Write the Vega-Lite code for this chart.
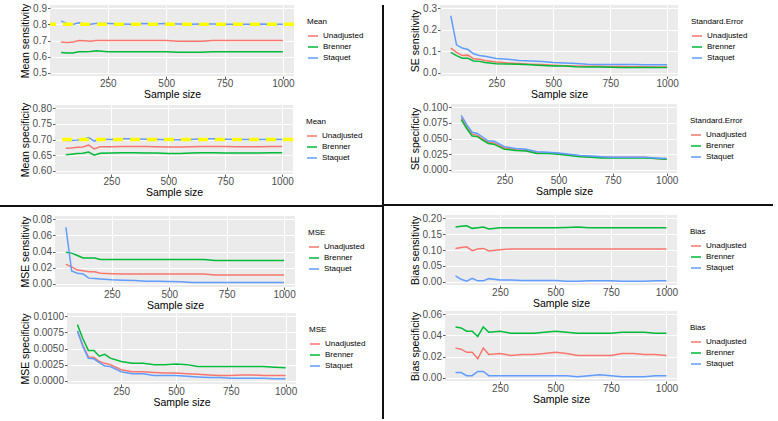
{
"$schema":"https://vega.github.io/schema/vega-lite/v6.json",
"background":"white",
"padding":{"left":0,"top":3,"right":5,"bottom":2},
"config":{
"font":"Liberation Sans",
"view":{"fill":"#EBEBEB","stroke":null},
"style":{"guide-title":{"fontWeight":"normal"}},
"axis":{"domain":false,"tickColor":"#333333","tickSize":2.5,"tickWidth":0.8,"labelColor":"#4D4D4D","labelFontSize":10,"titleFontSize":10.5,"titleFontWeight":"normal","titleColor":"#000000","grid":true,"gridColor":"#FFFFFF","gridWidth":1},
"axisX":{"labelPadding":0,"titlePadding":1,"minExtent":0},
"axisY":{"labelPadding":1,"titlePadding":2,"minExtent":0},
"legend":{"titleFontSize":8,"titleFontWeight":"normal","labelFontSize":8,"symbolType":"stroke","symbolSize":100,"symbolStrokeWidth":1.5,"rowPadding":1,"padding":13,"offset":0,"titlePadding":4,"labelOffset":4,"labelColor":"#000000"}
},
"datasets":{
"ms":[
{"n":50,"m":"Unadjusted","v":0.690},{"n":75,"m":"Unadjusted","v":0.688},{"n":100,"m":"Unadjusted","v":0.690},{"n":125,"m":"Unadjusted","v":0.700},{"n":150,"m":"Unadjusted","v":0.698},{"n":175,"m":"Unadjusted","v":0.695},{"n":200,"m":"Unadjusted","v":0.700},{"n":250,"m":"Unadjusted","v":0.700},{"n":300,"m":"Unadjusted","v":0.700},{"n":350,"m":"Unadjusted","v":0.700},{"n":400,"m":"Unadjusted","v":0.700},{"n":450,"m":"Unadjusted","v":0.700},{"n":500,"m":"Unadjusted","v":0.700},{"n":550,"m":"Unadjusted","v":0.695},{"n":600,"m":"Unadjusted","v":0.695},{"n":650,"m":"Unadjusted","v":0.695},{"n":700,"m":"Unadjusted","v":0.700},{"n":750,"m":"Unadjusted","v":0.700},{"n":800,"m":"Unadjusted","v":0.700},{"n":850,"m":"Unadjusted","v":0.700},{"n":900,"m":"Unadjusted","v":0.700},{"n":950,"m":"Unadjusted","v":0.700},{"n":1000,"m":"Unadjusted","v":0.700},
{"n":50,"m":"Brenner","v":0.625},{"n":75,"m":"Brenner","v":0.622},{"n":100,"m":"Brenner","v":0.622},{"n":125,"m":"Brenner","v":0.630},{"n":150,"m":"Brenner","v":0.630},{"n":175,"m":"Brenner","v":0.632},{"n":200,"m":"Brenner","v":0.636},{"n":250,"m":"Brenner","v":0.630},{"n":300,"m":"Brenner","v":0.630},{"n":350,"m":"Brenner","v":0.630},{"n":400,"m":"Brenner","v":0.630},{"n":450,"m":"Brenner","v":0.630},{"n":500,"m":"Brenner","v":0.630},{"n":550,"m":"Brenner","v":0.627},{"n":600,"m":"Brenner","v":0.627},{"n":650,"m":"Brenner","v":0.627},{"n":700,"m":"Brenner","v":0.630},{"n":750,"m":"Brenner","v":0.630},{"n":800,"m":"Brenner","v":0.630},{"n":850,"m":"Brenner","v":0.630},{"n":900,"m":"Brenner","v":0.630},{"n":950,"m":"Brenner","v":0.630},{"n":1000,"m":"Brenner","v":0.630},
{"n":50,"m":"Staquet","v":0.820},{"n":75,"m":"Staquet","v":0.805},{"n":100,"m":"Staquet","v":0.800},{"n":125,"m":"Staquet","v":0.810},{"n":150,"m":"Staquet","v":0.802},{"n":175,"m":"Staquet","v":0.800},{"n":200,"m":"Staquet","v":0.806},{"n":250,"m":"Staquet","v":0.805},{"n":300,"m":"Staquet","v":0.802},{"n":350,"m":"Staquet","v":0.800},{"n":400,"m":"Staquet","v":0.805},{"n":450,"m":"Staquet","v":0.802},{"n":500,"m":"Staquet","v":0.805},{"n":550,"m":"Staquet","v":0.802},{"n":600,"m":"Staquet","v":0.800},{"n":650,"m":"Staquet","v":0.802},{"n":700,"m":"Staquet","v":0.802},{"n":750,"m":"Staquet","v":0.800},{"n":800,"m":"Staquet","v":0.800},{"n":850,"m":"Staquet","v":0.800},{"n":900,"m":"Staquet","v":0.802},{"n":950,"m":"Staquet","v":0.800},{"n":1000,"m":"Staquet","v":0.800}
],
"msp":[
{"n":50,"m":"Unadjusted","v":0.672},{"n":75,"m":"Unadjusted","v":0.673},{"n":100,"m":"Unadjusted","v":0.675},{"n":125,"m":"Unadjusted","v":0.676},{"n":150,"m":"Unadjusted","v":0.682},{"n":175,"m":"Unadjusted","v":0.670},{"n":200,"m":"Unadjusted","v":0.677},{"n":250,"m":"Unadjusted","v":0.677},{"n":300,"m":"Unadjusted","v":0.678},{"n":350,"m":"Unadjusted","v":0.678},{"n":400,"m":"Unadjusted","v":0.678},{"n":450,"m":"Unadjusted","v":0.677},{"n":500,"m":"Unadjusted","v":0.676},{"n":550,"m":"Unadjusted","v":0.676},{"n":600,"m":"Unadjusted","v":0.677},{"n":650,"m":"Unadjusted","v":0.678},{"n":700,"m":"Unadjusted","v":0.678},{"n":750,"m":"Unadjusted","v":0.678},{"n":800,"m":"Unadjusted","v":0.677},{"n":850,"m":"Unadjusted","v":0.677},{"n":900,"m":"Unadjusted","v":0.677},{"n":950,"m":"Unadjusted","v":0.678},{"n":1000,"m":"Unadjusted","v":0.678},
{"n":50,"m":"Brenner","v":0.651},{"n":75,"m":"Brenner","v":0.653},{"n":100,"m":"Brenner","v":0.655},{"n":125,"m":"Brenner","v":0.656},{"n":150,"m":"Brenner","v":0.660},{"n":175,"m":"Brenner","v":0.650},{"n":200,"m":"Brenner","v":0.656},{"n":250,"m":"Brenner","v":0.657},{"n":300,"m":"Brenner","v":0.658},{"n":350,"m":"Brenner","v":0.658},{"n":400,"m":"Brenner","v":0.657},{"n":450,"m":"Brenner","v":0.657},{"n":500,"m":"Brenner","v":0.655},{"n":550,"m":"Brenner","v":0.655},{"n":600,"m":"Brenner","v":0.657},{"n":650,"m":"Brenner","v":0.658},{"n":700,"m":"Brenner","v":0.658},{"n":750,"m":"Brenner","v":0.657},{"n":800,"m":"Brenner","v":0.657},{"n":850,"m":"Brenner","v":0.657},{"n":900,"m":"Brenner","v":0.657},{"n":950,"m":"Brenner","v":0.658},{"n":1000,"m":"Brenner","v":0.658},
{"n":50,"m":"Staquet","v":0.697},{"n":75,"m":"Staquet","v":0.697},{"n":100,"m":"Staquet","v":0.698},{"n":125,"m":"Staquet","v":0.700},{"n":150,"m":"Staquet","v":0.706},{"n":175,"m":"Staquet","v":0.695},{"n":200,"m":"Staquet","v":0.700},{"n":250,"m":"Staquet","v":0.700},{"n":300,"m":"Staquet","v":0.702},{"n":350,"m":"Staquet","v":0.702},{"n":400,"m":"Staquet","v":0.701},{"n":450,"m":"Staquet","v":0.700},{"n":500,"m":"Staquet","v":0.699},{"n":550,"m":"Staquet","v":0.699},{"n":600,"m":"Staquet","v":0.700},{"n":650,"m":"Staquet","v":0.702},{"n":700,"m":"Staquet","v":0.702},{"n":750,"m":"Staquet","v":0.701},{"n":800,"m":"Staquet","v":0.700},{"n":850,"m":"Staquet","v":0.700},{"n":900,"m":"Staquet","v":0.700},{"n":950,"m":"Staquet","v":0.700},{"n":1000,"m":"Staquet","v":0.700}
],
"ses":[
{"n":50,"m":"Unadjusted","v":0.115},{"n":75,"m":"Unadjusted","v":0.095},{"n":100,"m":"Unadjusted","v":0.080},{"n":125,"m":"Unadjusted","v":0.082},{"n":150,"m":"Unadjusted","v":0.065},{"n":175,"m":"Unadjusted","v":0.063},{"n":200,"m":"Unadjusted","v":0.057},{"n":250,"m":"Unadjusted","v":0.050},{"n":300,"m":"Unadjusted","v":0.045},{"n":350,"m":"Unadjusted","v":0.043},{"n":400,"m":"Unadjusted","v":0.040},{"n":450,"m":"Unadjusted","v":0.038},{"n":500,"m":"Unadjusted","v":0.035},{"n":550,"m":"Unadjusted","v":0.033},{"n":600,"m":"Unadjusted","v":0.031},{"n":650,"m":"Unadjusted","v":0.030},{"n":700,"m":"Unadjusted","v":0.030},{"n":750,"m":"Unadjusted","v":0.029},{"n":800,"m":"Unadjusted","v":0.029},{"n":850,"m":"Unadjusted","v":0.028},{"n":900,"m":"Unadjusted","v":0.028},{"n":950,"m":"Unadjusted","v":0.027},{"n":1000,"m":"Unadjusted","v":0.027},
{"n":50,"m":"Brenner","v":0.095},{"n":75,"m":"Brenner","v":0.080},{"n":100,"m":"Brenner","v":0.068},{"n":125,"m":"Brenner","v":0.067},{"n":150,"m":"Brenner","v":0.055},{"n":175,"m":"Brenner","v":0.053},{"n":200,"m":"Brenner","v":0.048},{"n":250,"m":"Brenner","v":0.042},{"n":300,"m":"Brenner","v":0.041},{"n":350,"m":"Brenner","v":0.040},{"n":400,"m":"Brenner","v":0.037},{"n":450,"m":"Brenner","v":0.034},{"n":500,"m":"Brenner","v":0.032},{"n":550,"m":"Brenner","v":0.031},{"n":600,"m":"Brenner","v":0.028},{"n":650,"m":"Brenner","v":0.027},{"n":700,"m":"Brenner","v":0.027},{"n":750,"m":"Brenner","v":0.026},{"n":800,"m":"Brenner","v":0.025},{"n":850,"m":"Brenner","v":0.025},{"n":900,"m":"Brenner","v":0.024},{"n":950,"m":"Brenner","v":0.024},{"n":1000,"m":"Brenner","v":0.024},
{"n":50,"m":"Staquet","v":0.265},{"n":75,"m":"Staquet","v":0.130},{"n":100,"m":"Staquet","v":0.115},{"n":125,"m":"Staquet","v":0.108},{"n":150,"m":"Staquet","v":0.088},{"n":175,"m":"Staquet","v":0.080},{"n":200,"m":"Staquet","v":0.077},{"n":250,"m":"Staquet","v":0.066},{"n":300,"m":"Staquet","v":0.063},{"n":350,"m":"Staquet","v":0.057},{"n":400,"m":"Staquet","v":0.055},{"n":450,"m":"Staquet","v":0.052},{"n":500,"m":"Staquet","v":0.048},{"n":550,"m":"Staquet","v":0.046},{"n":600,"m":"Staquet","v":0.043},{"n":650,"m":"Staquet","v":0.040},{"n":700,"m":"Staquet","v":0.039},{"n":750,"m":"Staquet","v":0.039},{"n":800,"m":"Staquet","v":0.038},{"n":850,"m":"Staquet","v":0.038},{"n":900,"m":"Staquet","v":0.037},{"n":950,"m":"Staquet","v":0.037},{"n":1000,"m":"Staquet","v":0.037}
],
"sesp":[
{"n":50,"m":"Unadjusted","v":0.083},{"n":75,"m":"Unadjusted","v":0.068},{"n":100,"m":"Unadjusted","v":0.057},{"n":125,"m":"Unadjusted","v":0.055},{"n":150,"m":"Unadjusted","v":0.049},{"n":175,"m":"Unadjusted","v":0.044},{"n":200,"m":"Unadjusted","v":0.043},{"n":250,"m":"Unadjusted","v":0.035},{"n":300,"m":"Unadjusted","v":0.032},{"n":350,"m":"Unadjusted","v":0.031},{"n":400,"m":"Unadjusted","v":0.027},{"n":450,"m":"Unadjusted","v":0.027},{"n":500,"m":"Unadjusted","v":0.026},{"n":550,"m":"Unadjusted","v":0.024},{"n":600,"m":"Unadjusted","v":0.022},{"n":650,"m":"Unadjusted","v":0.021},{"n":700,"m":"Unadjusted","v":0.020},{"n":750,"m":"Unadjusted","v":0.020},{"n":800,"m":"Unadjusted","v":0.020},{"n":850,"m":"Unadjusted","v":0.020},{"n":900,"m":"Unadjusted","v":0.020},{"n":950,"m":"Unadjusted","v":0.018},{"n":1000,"m":"Unadjusted","v":0.017},
{"n":50,"m":"Brenner","v":0.080},{"n":75,"m":"Brenner","v":0.066},{"n":100,"m":"Brenner","v":0.054},{"n":125,"m":"Brenner","v":0.053},{"n":150,"m":"Brenner","v":0.047},{"n":175,"m":"Brenner","v":0.042},{"n":200,"m":"Brenner","v":0.041},{"n":250,"m":"Brenner","v":0.033},{"n":300,"m":"Brenner","v":0.031},{"n":350,"m":"Brenner","v":0.030},{"n":400,"m":"Brenner","v":0.026},{"n":450,"m":"Brenner","v":0.026},{"n":500,"m":"Brenner","v":0.025},{"n":550,"m":"Brenner","v":0.023},{"n":600,"m":"Brenner","v":0.021},{"n":650,"m":"Brenner","v":0.020},{"n":700,"m":"Brenner","v":0.019},{"n":750,"m":"Brenner","v":0.019},{"n":800,"m":"Brenner","v":0.019},{"n":850,"m":"Brenner","v":0.019},{"n":900,"m":"Brenner","v":0.019},{"n":950,"m":"Brenner","v":0.018},{"n":1000,"m":"Brenner","v":0.017},
{"n":50,"m":"Staquet","v":0.087},{"n":75,"m":"Staquet","v":0.072},{"n":100,"m":"Staquet","v":0.060},{"n":125,"m":"Staquet","v":0.058},{"n":150,"m":"Staquet","v":0.052},{"n":175,"m":"Staquet","v":0.046},{"n":200,"m":"Staquet","v":0.046},{"n":250,"m":"Staquet","v":0.037},{"n":300,"m":"Staquet","v":0.034},{"n":350,"m":"Staquet","v":0.033},{"n":400,"m":"Staquet","v":0.029},{"n":450,"m":"Staquet","v":0.028},{"n":500,"m":"Staquet","v":0.027},{"n":550,"m":"Staquet","v":0.025},{"n":600,"m":"Staquet","v":0.023},{"n":650,"m":"Staquet","v":0.022},{"n":700,"m":"Staquet","v":0.021},{"n":750,"m":"Staquet","v":0.020},{"n":800,"m":"Staquet","v":0.020},{"n":850,"m":"Staquet","v":0.020},{"n":900,"m":"Staquet","v":0.020},{"n":950,"m":"Staquet","v":0.019},{"n":1000,"m":"Staquet","v":0.018}
],
"mses":[
{"n":50,"m":"Unadjusted","v":0.024},{"n":75,"m":"Unadjusted","v":0.021},{"n":100,"m":"Unadjusted","v":0.017},{"n":125,"m":"Unadjusted","v":0.016},{"n":150,"m":"Unadjusted","v":0.015},{"n":175,"m":"Unadjusted","v":0.015},{"n":200,"m":"Unadjusted","v":0.013},{"n":250,"m":"Unadjusted","v":0.0125},{"n":300,"m":"Unadjusted","v":0.012},{"n":350,"m":"Unadjusted","v":0.012},{"n":400,"m":"Unadjusted","v":0.012},{"n":450,"m":"Unadjusted","v":0.012},{"n":500,"m":"Unadjusted","v":0.012},{"n":550,"m":"Unadjusted","v":0.012},{"n":600,"m":"Unadjusted","v":0.012},{"n":650,"m":"Unadjusted","v":0.012},{"n":700,"m":"Unadjusted","v":0.011},{"n":750,"m":"Unadjusted","v":0.011},{"n":800,"m":"Unadjusted","v":0.011},{"n":850,"m":"Unadjusted","v":0.011},{"n":900,"m":"Unadjusted","v":0.011},{"n":950,"m":"Unadjusted","v":0.011},{"n":1000,"m":"Unadjusted","v":0.011},
{"n":50,"m":"Brenner","v":0.039},{"n":75,"m":"Brenner","v":0.038},{"n":100,"m":"Brenner","v":0.035},{"n":125,"m":"Brenner","v":0.032},{"n":150,"m":"Brenner","v":0.032},{"n":175,"m":"Brenner","v":0.032},{"n":200,"m":"Brenner","v":0.030},{"n":250,"m":"Brenner","v":0.030},{"n":300,"m":"Brenner","v":0.030},{"n":350,"m":"Brenner","v":0.030},{"n":400,"m":"Brenner","v":0.030},{"n":450,"m":"Brenner","v":0.030},{"n":500,"m":"Brenner","v":0.030},{"n":550,"m":"Brenner","v":0.030},{"n":600,"m":"Brenner","v":0.030},{"n":650,"m":"Brenner","v":0.030},{"n":700,"m":"Brenner","v":0.029},{"n":750,"m":"Brenner","v":0.029},{"n":800,"m":"Brenner","v":0.029},{"n":850,"m":"Brenner","v":0.029},{"n":900,"m":"Brenner","v":0.029},{"n":950,"m":"Brenner","v":0.029},{"n":1000,"m":"Brenner","v":0.029},
{"n":50,"m":"Staquet","v":0.070},{"n":75,"m":"Staquet","v":0.016},{"n":100,"m":"Staquet","v":0.013},{"n":125,"m":"Staquet","v":0.012},{"n":150,"m":"Staquet","v":0.007},{"n":175,"m":"Staquet","v":0.0065},{"n":200,"m":"Staquet","v":0.006},{"n":250,"m":"Staquet","v":0.005},{"n":300,"m":"Staquet","v":0.0045},{"n":350,"m":"Staquet","v":0.004},{"n":400,"m":"Staquet","v":0.003},{"n":450,"m":"Staquet","v":0.003},{"n":500,"m":"Staquet","v":0.0028},{"n":550,"m":"Staquet","v":0.0025},{"n":600,"m":"Staquet","v":0.0015},{"n":650,"m":"Staquet","v":0.0015},{"n":700,"m":"Staquet","v":0.0015},{"n":750,"m":"Staquet","v":0.0015},{"n":800,"m":"Staquet","v":0.0015},{"n":850,"m":"Staquet","v":0.0015},{"n":900,"m":"Staquet","v":0.0015},{"n":950,"m":"Staquet","v":0.0015},{"n":1000,"m":"Staquet","v":0.0015}
],
"msesp":[
{"n":50,"m":"Unadjusted","v":0.0077},{"n":75,"m":"Unadjusted","v":0.0055},{"n":100,"m":"Unadjusted","v":0.0037},{"n":125,"m":"Unadjusted","v":0.0036},{"n":150,"m":"Unadjusted","v":0.0030},{"n":175,"m":"Unadjusted","v":0.0027},{"n":200,"m":"Unadjusted","v":0.0025},{"n":250,"m":"Unadjusted","v":0.0017},{"n":300,"m":"Unadjusted","v":0.0014},{"n":350,"m":"Unadjusted","v":0.0014},{"n":400,"m":"Unadjusted","v":0.0013},{"n":450,"m":"Unadjusted","v":0.0012},{"n":500,"m":"Unadjusted","v":0.0012},{"n":550,"m":"Unadjusted","v":0.0011},{"n":600,"m":"Unadjusted","v":0.0010},{"n":650,"m":"Unadjusted","v":0.0009},{"n":700,"m":"Unadjusted","v":0.0008},{"n":750,"m":"Unadjusted","v":0.0008},{"n":800,"m":"Unadjusted","v":0.0009},{"n":850,"m":"Unadjusted","v":0.0009},{"n":900,"m":"Unadjusted","v":0.0008},{"n":950,"m":"Unadjusted","v":0.0008},{"n":1000,"m":"Unadjusted","v":0.0008},
{"n":50,"m":"Brenner","v":0.0087},{"n":75,"m":"Brenner","v":0.0065},{"n":100,"m":"Brenner","v":0.0047},{"n":125,"m":"Brenner","v":0.0047},{"n":150,"m":"Brenner","v":0.0038},{"n":175,"m":"Brenner","v":0.0041},{"n":200,"m":"Brenner","v":0.0035},{"n":250,"m":"Brenner","v":0.0030},{"n":300,"m":"Brenner","v":0.0027},{"n":350,"m":"Brenner","v":0.0027},{"n":400,"m":"Brenner","v":0.0025},{"n":450,"m":"Brenner","v":0.0025},{"n":500,"m":"Brenner","v":0.0026},{"n":550,"m":"Brenner","v":0.0025},{"n":600,"m":"Brenner","v":0.0022},{"n":650,"m":"Brenner","v":0.0022},{"n":700,"m":"Brenner","v":0.0022},{"n":750,"m":"Brenner","v":0.0022},{"n":800,"m":"Brenner","v":0.0022},{"n":850,"m":"Brenner","v":0.0022},{"n":900,"m":"Brenner","v":0.0022},{"n":950,"m":"Brenner","v":0.0021},{"n":1000,"m":"Brenner","v":0.0020},
{"n":50,"m":"Staquet","v":0.0077},{"n":75,"m":"Staquet","v":0.0053},{"n":100,"m":"Staquet","v":0.0035},{"n":125,"m":"Staquet","v":0.0034},{"n":150,"m":"Staquet","v":0.0028},{"n":175,"m":"Staquet","v":0.0023},{"n":200,"m":"Staquet","v":0.0022},{"n":250,"m":"Staquet","v":0.0014},{"n":300,"m":"Staquet","v":0.0011},{"n":350,"m":"Staquet","v":0.0011},{"n":400,"m":"Staquet","v":0.0008},{"n":450,"m":"Staquet","v":0.0008},{"n":500,"m":"Staquet","v":0.0008},{"n":550,"m":"Staquet","v":0.0007},{"n":600,"m":"Staquet","v":0.0006},{"n":650,"m":"Staquet","v":0.0005},{"n":700,"m":"Staquet","v":0.0005},{"n":750,"m":"Staquet","v":0.0004},{"n":800,"m":"Staquet","v":0.0004},{"n":850,"m":"Staquet","v":0.0004},{"n":900,"m":"Staquet","v":0.0004},{"n":950,"m":"Staquet","v":0.0003},{"n":1000,"m":"Staquet","v":0.0003}
],
"bs":[
{"n":50,"m":"Unadjusted","v":0.105},{"n":75,"m":"Unadjusted","v":0.108},{"n":100,"m":"Unadjusted","v":0.110},{"n":125,"m":"Unadjusted","v":0.098},{"n":150,"m":"Unadjusted","v":0.103},{"n":175,"m":"Unadjusted","v":0.105},{"n":200,"m":"Unadjusted","v":0.097},{"n":250,"m":"Unadjusted","v":0.101},{"n":300,"m":"Unadjusted","v":0.103},{"n":350,"m":"Unadjusted","v":0.103},{"n":400,"m":"Unadjusted","v":0.103},{"n":450,"m":"Unadjusted","v":0.103},{"n":500,"m":"Unadjusted","v":0.103},{"n":550,"m":"Unadjusted","v":0.103},{"n":600,"m":"Unadjusted","v":0.103},{"n":650,"m":"Unadjusted","v":0.103},{"n":700,"m":"Unadjusted","v":0.103},{"n":750,"m":"Unadjusted","v":0.103},{"n":800,"m":"Unadjusted","v":0.103},{"n":850,"m":"Unadjusted","v":0.103},{"n":900,"m":"Unadjusted","v":0.103},{"n":950,"m":"Unadjusted","v":0.103},{"n":1000,"m":"Unadjusted","v":0.103},
{"n":50,"m":"Brenner","v":0.172},{"n":75,"m":"Brenner","v":0.175},{"n":100,"m":"Brenner","v":0.176},{"n":125,"m":"Brenner","v":0.168},{"n":150,"m":"Brenner","v":0.170},{"n":175,"m":"Brenner","v":0.172},{"n":200,"m":"Brenner","v":0.166},{"n":250,"m":"Brenner","v":0.170},{"n":300,"m":"Brenner","v":0.170},{"n":350,"m":"Brenner","v":0.170},{"n":400,"m":"Brenner","v":0.170},{"n":450,"m":"Brenner","v":0.170},{"n":500,"m":"Brenner","v":0.170},{"n":550,"m":"Brenner","v":0.171},{"n":600,"m":"Brenner","v":0.172},{"n":650,"m":"Brenner","v":0.170},{"n":700,"m":"Brenner","v":0.170},{"n":750,"m":"Brenner","v":0.170},{"n":800,"m":"Brenner","v":0.170},{"n":850,"m":"Brenner","v":0.170},{"n":900,"m":"Brenner","v":0.170},{"n":950,"m":"Brenner","v":0.170},{"n":1000,"m":"Brenner","v":0.170},
{"n":50,"m":"Staquet","v":0.019},{"n":75,"m":"Staquet","v":0.008},{"n":100,"m":"Staquet","v":0.002},{"n":125,"m":"Staquet","v":0.011},{"n":150,"m":"Staquet","v":0.003},{"n":175,"m":"Staquet","v":0.003},{"n":200,"m":"Staquet","v":0.010},{"n":250,"m":"Staquet","v":0.006},{"n":300,"m":"Staquet","v":0.006},{"n":350,"m":"Staquet","v":0.004},{"n":400,"m":"Staquet","v":0.004},{"n":450,"m":"Staquet","v":0.004},{"n":500,"m":"Staquet","v":0.004},{"n":550,"m":"Staquet","v":0.002},{"n":600,"m":"Staquet","v":0.002},{"n":650,"m":"Staquet","v":0.003},{"n":700,"m":"Staquet","v":0.003},{"n":750,"m":"Staquet","v":0.003},{"n":800,"m":"Staquet","v":0.002},{"n":850,"m":"Staquet","v":0.002},{"n":900,"m":"Staquet","v":0.002},{"n":950,"m":"Staquet","v":0.003},{"n":1000,"m":"Staquet","v":0.003}
],
"bsp":[
{"n":50,"m":"Unadjusted","v":0.028},{"n":75,"m":"Unadjusted","v":0.027},{"n":100,"m":"Unadjusted","v":0.024},{"n":125,"m":"Unadjusted","v":0.024},{"n":150,"m":"Unadjusted","v":0.018},{"n":175,"m":"Unadjusted","v":0.028},{"n":200,"m":"Unadjusted","v":0.022},{"n":250,"m":"Unadjusted","v":0.023},{"n":300,"m":"Unadjusted","v":0.021},{"n":350,"m":"Unadjusted","v":0.022},{"n":400,"m":"Unadjusted","v":0.022},{"n":450,"m":"Unadjusted","v":0.023},{"n":500,"m":"Unadjusted","v":0.024},{"n":550,"m":"Unadjusted","v":0.023},{"n":600,"m":"Unadjusted","v":0.021},{"n":650,"m":"Unadjusted","v":0.021},{"n":700,"m":"Unadjusted","v":0.021},{"n":750,"m":"Unadjusted","v":0.021},{"n":800,"m":"Unadjusted","v":0.023},{"n":850,"m":"Unadjusted","v":0.023},{"n":900,"m":"Unadjusted","v":0.022},{"n":950,"m":"Unadjusted","v":0.022},{"n":1000,"m":"Unadjusted","v":0.021},
{"n":50,"m":"Brenner","v":0.048},{"n":75,"m":"Brenner","v":0.047},{"n":100,"m":"Brenner","v":0.044},{"n":125,"m":"Brenner","v":0.044},{"n":150,"m":"Brenner","v":0.039},{"n":175,"m":"Brenner","v":0.048},{"n":200,"m":"Brenner","v":0.043},{"n":250,"m":"Brenner","v":0.044},{"n":300,"m":"Brenner","v":0.042},{"n":350,"m":"Brenner","v":0.042},{"n":400,"m":"Brenner","v":0.042},{"n":450,"m":"Brenner","v":0.043},{"n":500,"m":"Brenner","v":0.044},{"n":550,"m":"Brenner","v":0.043},{"n":600,"m":"Brenner","v":0.042},{"n":650,"m":"Brenner","v":0.042},{"n":700,"m":"Brenner","v":0.042},{"n":750,"m":"Brenner","v":0.042},{"n":800,"m":"Brenner","v":0.043},{"n":850,"m":"Brenner","v":0.043},{"n":900,"m":"Brenner","v":0.043},{"n":950,"m":"Brenner","v":0.042},{"n":1000,"m":"Brenner","v":0.042},
{"n":50,"m":"Staquet","v":0.005},{"n":75,"m":"Staquet","v":0.005},{"n":100,"m":"Staquet","v":0.002},{"n":125,"m":"Staquet","v":0.002},{"n":150,"m":"Staquet","v":0.006},{"n":175,"m":"Staquet","v":0.006},{"n":200,"m":"Staquet","v":0.002},{"n":250,"m":"Staquet","v":0.002},{"n":300,"m":"Staquet","v":0.002},{"n":350,"m":"Staquet","v":0.002},{"n":400,"m":"Staquet","v":0.002},{"n":450,"m":"Staquet","v":0.002},{"n":500,"m":"Staquet","v":0.002},{"n":550,"m":"Staquet","v":0.002},{"n":600,"m":"Staquet","v":0.001},{"n":650,"m":"Staquet","v":0.002},{"n":700,"m":"Staquet","v":0.003},{"n":750,"m":"Staquet","v":0.002},{"n":800,"m":"Staquet","v":0.001},{"n":850,"m":"Staquet","v":0.001},{"n":900,"m":"Staquet","v":0.001},{"n":950,"m":"Staquet","v":0.002},{"n":1000,"m":"Staquet","v":0.002}
],
"ref8":[{"ref":0.8}],
"ref7":[{"ref":0.7}],
"empty":[]
},
"hconcat":[
{"concat":[
 {"concat":[
  {"hconcat":[{"width":20,"height":1,"data":{"name":"empty"},"mark":"point","view":{"fill":null,"stroke":null}},{"width":244,"height":71,"layer":[
   {"data":{"name":"ms"},"mark":{"type":"line","strokeWidth":1.5},"encoding":{
    "x":{"field":"n","type":"quantitative","scale":{"domain":[2.5,1047.5],"nice":false,"zero":false},"axis":{"values":[250,500,750,1000],"format":"d","title":"Sample size"}},
    "y":{"field":"v","type":"quantitative","scale":{"domain":[0.48,0.92],"nice":false,"zero":false},"axis":{"values":[0.5,0.6,0.7,0.8,0.9],"format":".1f","title":"Mean sensitivity"}},
    "color":{"field":"m","type":"nominal","scale":{"domain":["Unadjusted","Brenner","Staquet"],"range":["#F8766D","#00BA38","#619CFF"]},"legend":{"title":"Mean"}}}},
   {"data":{"name":"ms"},"mark":{"type":"line","opacity":0},"encoding":{
    "x":{"field":"n","type":"quantitative","axis":{"orient":"top","values":[125,375,625,875],"gridWidth":0.5,"labels":false,"ticks":false,"title":null}},
    "y":{"field":"v","type":"quantitative","axis":{"orient":"right","values":[0.55,0.65,0.75,0.85],"gridWidth":0.5,"labels":false,"ticks":false,"title":null}}}},
   {"data":{"name":"ref8"},"mark":{"type":"rule","color":"#FFFF00","strokeWidth":3.5,"strokeDash":[10,7]},"encoding":{"y":{"field":"ref","type":"quantitative","axis":null}}}
  ],"resolve":{"axis":{"x":"independent","y":"independent"}}}],"spacing":0,"resolve":{"scale":{"color":"independent","x":"independent","y":"independent"},"legend":{"color":"independent"}}},
  {"hconcat":[{"width":20,"height":1,"data":{"name":"empty"},"mark":"point","view":{"fill":null,"stroke":null}},{"width":238,"height":69,"layer":[
   {"data":{"name":"msp"},"mark":{"type":"line","strokeWidth":1.5},"encoding":{
    "x":{"field":"n","type":"quantitative","scale":{"domain":[2.5,1047.5],"nice":false,"zero":false},"axis":{"values":[250,500,750,1000],"format":"d","title":"Sample size"}},
    "y":{"field":"v","type":"quantitative","scale":{"domain":[0.59,0.81],"nice":false,"zero":false},"axis":{"values":[0.6,0.65,0.7,0.75,0.8],"format":".2f","title":"Mean specificity"}},
    "color":{"field":"m","type":"nominal","scale":{"domain":["Unadjusted","Brenner","Staquet"],"range":["#F8766D","#00BA38","#619CFF"]},"legend":{"title":"Mean"}}}},
   {"data":{"name":"msp"},"mark":{"type":"line","opacity":0},"encoding":{
    "x":{"field":"n","type":"quantitative","axis":{"orient":"top","values":[125,375,625,875],"gridWidth":0.5,"labels":false,"ticks":false,"title":null}},
    "y":{"field":"v","type":"quantitative","axis":{"orient":"right","values":[0.625,0.675,0.725,0.775],"gridWidth":0.5,"labels":false,"ticks":false,"title":null}}}},
   {"data":{"name":"ref7"},"mark":{"type":"rule","color":"#FFFF00","strokeWidth":3.5,"strokeDash":[10,7]},"encoding":{"y":{"field":"ref","type":"quantitative","axis":null}}}
  ],"resolve":{"axis":{"x":"independent","y":"independent"}}}],"spacing":0,"resolve":{"scale":{"color":"independent","x":"independent","y":"independent"},"legend":{"color":"independent"}}}
 ],"columns":1,"spacing":2,"resolve":{"scale":{"color":"independent","x":"independent","y":"independent"},"legend":{"color":"independent"}}},
 {"width":382,"height":2,"data":{"name":"empty"},"mark":"point","view":{"fill":"#111111","stroke":null}},
 {"concat":[
  {"hconcat":[{"width":20,"height":1,"data":{"name":"empty"},"mark":"point","view":{"fill":null,"stroke":null}},{"width":240,"height":71,"layer":[
   {"data":{"name":"mses"},"mark":{"type":"line","strokeWidth":1.5},"encoding":{
    "x":{"field":"n","type":"quantitative","scale":{"domain":[2.5,1047.5],"nice":false,"zero":false},"axis":{"values":[250,500,750,1000],"format":"d","title":"Sample size"}},
    "y":{"field":"v","type":"quantitative","scale":{"domain":[-0.004,0.084],"nice":false,"zero":false},"axis":{"values":[0,0.02,0.04,0.06,0.08],"format":".2f","title":"MSE sensitivity"}},
    "color":{"field":"m","type":"nominal","scale":{"domain":["Unadjusted","Brenner","Staquet"],"range":["#F8766D","#00BA38","#619CFF"]},"legend":{"title":"MSE"}}}},
   {"data":{"name":"mses"},"mark":{"type":"line","opacity":0},"encoding":{
    "x":{"field":"n","type":"quantitative","axis":{"orient":"top","values":[125,375,625,875],"gridWidth":0.5,"labels":false,"ticks":false,"title":null}},
    "y":{"field":"v","type":"quantitative","axis":{"orient":"right","values":[0.01,0.03,0.05,0.07],"gridWidth":0.5,"labels":false,"ticks":false,"title":null}}}}
  ],"resolve":{"axis":{"x":"independent","y":"independent"}}}],"spacing":0,"resolve":{"scale":{"color":"independent","x":"independent","y":"independent"},"legend":{"color":"independent"}}},
  {"hconcat":[{"width":20,"height":1,"data":{"name":"empty"},"mark":"point","view":{"fill":null,"stroke":null}},{"width":229,"height":71,"layer":[
   {"data":{"name":"msesp"},"mark":{"type":"line","strokeWidth":1.5},"encoding":{
    "x":{"field":"n","type":"quantitative","scale":{"domain":[2.5,1047.5],"nice":false,"zero":false},"axis":{"values":[250,500,750,1000],"format":"d","title":"Sample size"}},
    "y":{"field":"v","type":"quantitative","scale":{"domain":[-0.0005,0.0105],"nice":false,"zero":false},"axis":{"values":[0,0.0025,0.005,0.0075,0.01],"format":".4f","title":"MSE specificity"}},
    "color":{"field":"m","type":"nominal","scale":{"domain":["Unadjusted","Brenner","Staquet"],"range":["#F8766D","#00BA38","#619CFF"]},"legend":{"title":"MSE"}}}},
   {"data":{"name":"msesp"},"mark":{"type":"line","opacity":0},"encoding":{
    "x":{"field":"n","type":"quantitative","axis":{"orient":"top","values":[125,375,625,875],"gridWidth":0.5,"labels":false,"ticks":false,"title":null}},
    "y":{"field":"v","type":"quantitative","axis":{"orient":"right","values":[0.00125,0.00375,0.00625,0.00875],"gridWidth":0.5,"labels":false,"ticks":false,"title":null}}}}
  ],"resolve":{"axis":{"x":"independent","y":"independent"}}}],"spacing":0,"resolve":{"scale":{"color":"independent","x":"independent","y":"independent"},"legend":{"color":"independent"}}}
 ],"columns":1,"spacing":0,"resolve":{"scale":{"color":"independent","x":"independent","y":"independent"},"legend":{"color":"independent"}}}
],"columns":1,"spacing":7,"resolve":{"scale":{"color":"independent","x":"independent","y":"independent"},"legend":{"color":"independent"}}},
{"width":2,"height":414,"data":{"name":"empty"},"mark":"point","view":{"fill":"#111111","stroke":null}},
{"concat":[
 {"concat":[
  {"hconcat":[{"width":26,"height":1,"data":{"name":"empty"},"mark":"point","view":{"fill":null,"stroke":null}},{"width":238,"height":71,"layer":[
   {"data":{"name":"ses"},"mark":{"type":"line","strokeWidth":1.5},"encoding":{
    "x":{"field":"n","type":"quantitative","scale":{"domain":[2.5,1047.5],"nice":false,"zero":false},"axis":{"values":[250,500,750,1000],"format":"d","title":"Sample size"}},
    "y":{"field":"v","type":"quantitative","scale":{"domain":[-0.015,0.315],"nice":false,"zero":false},"axis":{"values":[0,0.1,0.2,0.3],"format":".1f","title":"SE sensitivity"}},
    "color":{"field":"m","type":"nominal","scale":{"domain":["Unadjusted","Brenner","Staquet"],"range":["#F8766D","#00BA38","#619CFF"]},"legend":{"title":"Standard.Error"}}}},
   {"data":{"name":"ses"},"mark":{"type":"line","opacity":0},"encoding":{
    "x":{"field":"n","type":"quantitative","axis":{"orient":"top","values":[125,375,625,875],"gridWidth":0.5,"labels":false,"ticks":false,"title":null}},
    "y":{"field":"v","type":"quantitative","axis":{"orient":"right","values":[0.05,0.15,0.25],"gridWidth":0.5,"labels":false,"ticks":false,"title":null}}}}
  ],"resolve":{"axis":{"x":"independent","y":"independent"}}}],"spacing":0,"resolve":{"scale":{"color":"independent","x":"independent","y":"independent"},"legend":{"color":"independent"}}},
  {"hconcat":[{"width":26,"height":1,"data":{"name":"empty"},"mark":"point","view":{"fill":null,"stroke":null}},{"width":226,"height":69,"layer":[
   {"data":{"name":"sesp"},"mark":{"type":"line","strokeWidth":1.5},"encoding":{
    "x":{"field":"n","type":"quantitative","scale":{"domain":[2.5,1047.5],"nice":false,"zero":false},"axis":{"values":[250,500,750,1000],"format":"d","title":"Sample size"}},
    "y":{"field":"v","type":"quantitative","scale":{"domain":[-0.005,0.105],"nice":false,"zero":false},"axis":{"values":[0,0.025,0.05,0.075,0.1],"format":".3f","title":"SE specificity"}},
    "color":{"field":"m","type":"nominal","scale":{"domain":["Unadjusted","Brenner","Staquet"],"range":["#F8766D","#00BA38","#619CFF"]},"legend":{"title":"Standard.Error"}}}},
   {"data":{"name":"sesp"},"mark":{"type":"line","opacity":0},"encoding":{
    "x":{"field":"n","type":"quantitative","axis":{"orient":"top","values":[125,375,625,875],"gridWidth":0.5,"labels":false,"ticks":false,"title":null}},
    "y":{"field":"v","type":"quantitative","axis":{"orient":"right","values":[0.0125,0.0375,0.0625,0.0875],"gridWidth":0.5,"labels":false,"ticks":false,"title":null}}}}
  ],"resolve":{"axis":{"x":"independent","y":"independent"}}}],"spacing":0,"resolve":{"scale":{"color":"independent","x":"independent","y":"independent"},"legend":{"color":"independent"}}}
 ],"columns":1,"spacing":2,"resolve":{"scale":{"color":"independent","x":"independent","y":"independent"},"legend":{"color":"independent"}}},
 {"width":389,"height":2,"data":{"name":"empty"},"mark":"point","view":{"fill":"#111111","stroke":null}},
 {"concat":[
  {"hconcat":[{"width":26,"height":1,"data":{"name":"empty"},"mark":"point","view":{"fill":null,"stroke":null}},{"width":232,"height":70,"layer":[
   {"data":{"name":"bs"},"mark":{"type":"line","strokeWidth":1.5},"encoding":{
    "x":{"field":"n","type":"quantitative","scale":{"domain":[2.5,1047.5],"nice":false,"zero":false},"axis":{"values":[250,500,750,1000],"format":"d","title":"Sample size"}},
    "y":{"field":"v","type":"quantitative","scale":{"domain":[-0.01,0.21],"nice":false,"zero":false},"axis":{"values":[0,0.05,0.1,0.15,0.2],"format":".2f","title":"Bias sensitivity"}},
    "color":{"field":"m","type":"nominal","scale":{"domain":["Unadjusted","Brenner","Staquet"],"range":["#F8766D","#00BA38","#619CFF"]},"legend":{"title":"Bias"}}}},
   {"data":{"name":"bs"},"mark":{"type":"line","opacity":0},"encoding":{
    "x":{"field":"n","type":"quantitative","axis":{"orient":"top","values":[125,375,625,875],"gridWidth":0.5,"labels":false,"ticks":false,"title":null}},
    "y":{"field":"v","type":"quantitative","axis":{"orient":"right","values":[0.025,0.075,0.125,0.175],"gridWidth":0.5,"labels":false,"ticks":false,"title":null}}}}
  ],"resolve":{"axis":{"x":"independent","y":"independent"}}}],"spacing":0,"resolve":{"scale":{"color":"independent","x":"independent","y":"independent"},"legend":{"color":"independent"}}},
  {"hconcat":[{"width":26,"height":1,"data":{"name":"empty"},"mark":"point","view":{"fill":null,"stroke":null}},{"width":232,"height":70,"layer":[
   {"data":{"name":"bsp"},"mark":{"type":"line","strokeWidth":1.5},"encoding":{
    "x":{"field":"n","type":"quantitative","scale":{"domain":[2.5,1047.5],"nice":false,"zero":false},"axis":{"values":[250,500,750,1000],"format":"d","title":"Sample size"}},
    "y":{"field":"v","type":"quantitative","scale":{"domain":[-0.003,0.063],"nice":false,"zero":false},"axis":{"values":[0,0.02,0.04,0.06],"format":".2f","title":"Bias specificity"}},
    "color":{"field":"m","type":"nominal","scale":{"domain":["Unadjusted","Brenner","Staquet"],"range":["#F8766D","#00BA38","#619CFF"]},"legend":{"title":"Bias"}}}},
   {"data":{"name":"bsp"},"mark":{"type":"line","opacity":0},"encoding":{
    "x":{"field":"n","type":"quantitative","axis":{"orient":"top","values":[125,375,625,875],"gridWidth":0.5,"labels":false,"ticks":false,"title":null}},
    "y":{"field":"v","type":"quantitative","axis":{"orient":"right","values":[0.01,0.03,0.05],"gridWidth":0.5,"labels":false,"ticks":false,"title":null}}}}
  ],"resolve":{"axis":{"x":"independent","y":"independent"}}}],"spacing":0,"resolve":{"scale":{"color":"independent","x":"independent","y":"independent"},"legend":{"color":"independent"}}}
 ],"columns":1,"spacing":0,"resolve":{"scale":{"color":"independent","x":"independent","y":"independent"},"legend":{"color":"independent"}}}
],"columns":1,"spacing":7,"resolve":{"scale":{"color":"independent","x":"independent","y":"independent"},"legend":{"color":"independent"}}}
],
"spacing":0,
"resolve":{"scale":{"color":"independent","x":"independent","y":"independent"},"legend":{"color":"independent"}}
}
